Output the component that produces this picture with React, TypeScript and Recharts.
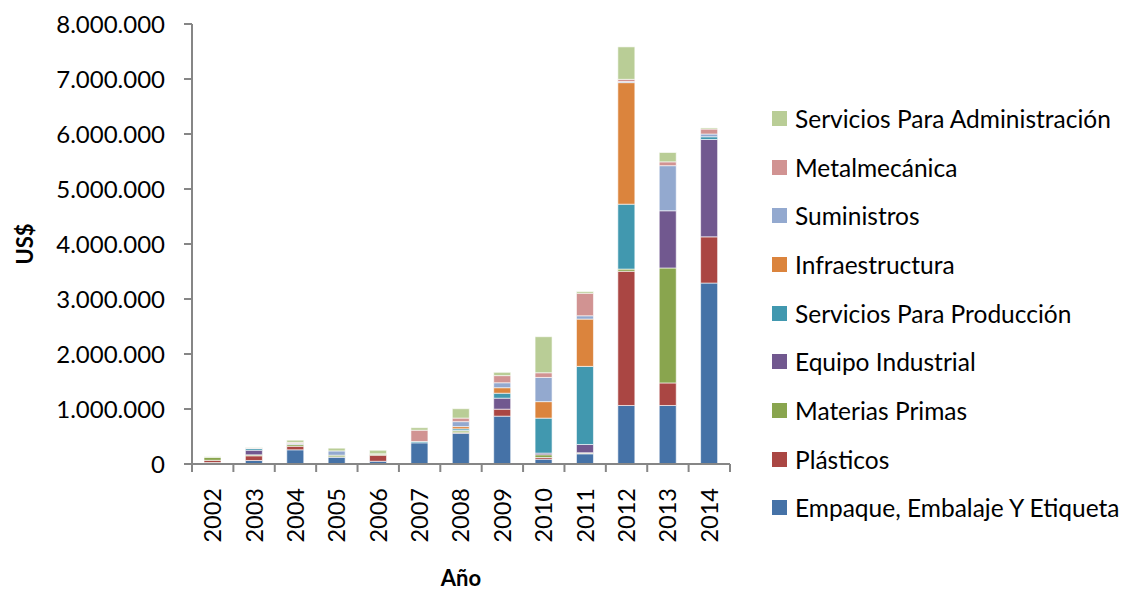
import React from 'react';
import { BarChart, Bar, XAxis, YAxis } from 'recharts';

const years = ['2002', '2003', '2004', '2005', '2006', '2007', '2008', '2009', '2010', '2011', '2012', '2013', '2014'];

// US$ per year, stacked bottom to top
const empaque = [27000, 64000, 258000, 125000, 50000, 385000, 560000, 870000, 88000, 185000, 1064000, 1064000, 3290000];
const plasticos = [40000, 85000, 65000, 5000, 110000, 0, 10000, 127000, 30000, 10000, 2440000, 410000, 840000];
const materiasPrimas = [55000, 17000, 30000, 30000, 20000, 0, 30000, 0, 50000, 10000, 40000, 2090000, 0];
const equipoIndustrial = [0, 85000, 0, 0, 0, 0, 10000, 200000, 30000, 150000, 0, 1040000, 1770000];
const serviciosProduccion = [0, 30000, 0, 0, 0, 25000, 30000, 90000, 636000, 1420000, 1180000, 0, 50000];
const infraestructura = [0, 0, 0, 0, 0, 0, 40000, 100000, 300000, 860000, 2210000, 0, 0];
const suministros = [0, 0, 20000, 78000, 0, 0, 90000, 90000, 440000, 60000, 20000, 820000, 50000];
const metalmecanica = [0, 10000, 20000, 0, 5000, 205000, 65000, 130000, 85000, 410000, 40000, 70000, 90000];
const serviciosAdministracion = [10000, 10000, 40000, 50000, 65000, 45000, 170000, 60000, 655000, 30000, 590000, 170000, 20000];

const yTicks = [0, 1000000, 2000000, 3000000, 4000000, 5000000, 6000000, 7000000, 8000000];

const series = [
  { key: 'empaque', name: 'Empaque, Embalaje Y Etiqueta', values: empaque, color: '#4572A7' },
  { key: 'plasticos', name: 'Plásticos', values: plasticos, color: '#AA4643' },
  { key: 'materias', name: 'Materias Primas', values: materiasPrimas, color: '#89A54E' },
  { key: 'equipo', name: 'Equipo Industrial', values: equipoIndustrial, color: '#71588F' },
  { key: 'servProd', name: 'Servicios Para Producción', values: serviciosProduccion, color: '#4198AF' },
  { key: 'infra', name: 'Infraestructura', values: infraestructura, color: '#DB843D' },
  { key: 'suministros', name: 'Suministros', values: suministros, color: '#93A9CF' },
  { key: 'metal', name: 'Metalmecánica', values: metalmecanica, color: '#D19392' },
  { key: 'servAdmin', name: 'Servicios Para Administración', values: serviciosAdministracion, color: '#B9CD96' },
];

const data = years.map((year, i) => {
  const row: Record<string, string | number> = { year };
  series.forEach(s => { row[s.key] = s.values[i]; });
  return row;
});

const FONT = 'Lato, "Open Sans", sans-serif';
const AXIS_COLOR = '#868686';
const PLOT_LEFT = 192;
const PLOT_RIGHT = 730;
const PLOT_BOTTOM = 464;
const BAND = (PLOT_RIGHT - PLOT_LEFT) / years.length;

const fmt = (v: number) => String(v).replace(/\B(?=(\d{3})+(?!\d))/g, '.');

// rotated year label plus Excel-style tick marks on the category boundaries
const YearTick = (props: any) => {
  const { x, payload, index } = props;
  const left = x - BAND / 2;
  return (
    <g>
      <line x1={left} y1={PLOT_BOTTOM} x2={left} y2={PLOT_BOTTOM + 8} stroke={AXIS_COLOR} strokeWidth={2} />
      {index === years.length - 1 && (
        <line x1={left + BAND} y1={PLOT_BOTTOM} x2={left + BAND} y2={PLOT_BOTTOM + 8} stroke={AXIS_COLOR} strokeWidth={2} />
      )}
      <text
        x={x}
        y={488}
        transform={`rotate(-90, ${x}, 488)`}
        textAnchor="end"
        dy="0.36em"
        fontFamily={FONT}
        fontSize={23.5}
        fill="#000"
      >
        {payload.value}
      </text>
    </g>
  );
};

export default function App() {
  return (
    <div style={{ position: 'absolute', left: 0, top: 0, width: 1126, height: 590, background: '#fff' }}>
      <BarChart
        width={1126}
        height={590}
        data={data}
        margin={{ top: 24, right: 1126 - PLOT_RIGHT, bottom: 0, left: 0 }}
        barSize={17}
      >
        <XAxis
          dataKey="year"
          height={590 - PLOT_BOTTOM}
          tickLine={false}
          axisLine={{ stroke: AXIS_COLOR, strokeWidth: 2 }}
          tick={<YearTick />}
          interval={0}
          label={{ value: 'Año', position: 'insideBottom', offset: 4, style: { fontFamily: FONT, fontSize: 22, fontWeight: 700, fill: '#000' } }}
        />
        <YAxis
          width={PLOT_LEFT}
          domain={[0, 8000000]}
          ticks={yTicks}
          tickFormatter={fmt}
          tickSize={8}
          tickMargin={19}
          tickLine={{ stroke: AXIS_COLOR, strokeWidth: 2 }}
          axisLine={{ stroke: AXIS_COLOR, strokeWidth: 2 }}
          tick={{ fontFamily: FONT, fontSize: 24, fill: '#000' }}
          label={{ value: 'US$', angle: -90, position: 'insideLeft', offset: 25, style: { textAnchor: 'middle', fontFamily: FONT, fontSize: 22, fontWeight: 700, fill: '#000' } }}
        />
        {series.map(s => (
          <Bar
            key={s.key}
            dataKey={s.key}
            name={s.name}
            stackId="total"
            fill={s.color}
            stroke="#ffffff"
            strokeWidth={0.6}
            isAnimationActive={false}
          />
        ))}
      </BarChart>
      <div style={{ position: 'absolute', left: 772, top: 94, fontFamily: FONT, fontSize: 24.5, color: '#000' }}>
        {[...series].reverse().map(s => (
          <div key={s.key} style={{ display: 'flex', alignItems: 'center', height: 48.7, whiteSpace: 'nowrap' }}>
            <span style={{ width: 15, height: 15, background: s.color, marginRight: 8, flexShrink: 0 }} />
            <span>{s.name}</span>
          </div>
        ))}
      </div>
    </div>
  );
}
